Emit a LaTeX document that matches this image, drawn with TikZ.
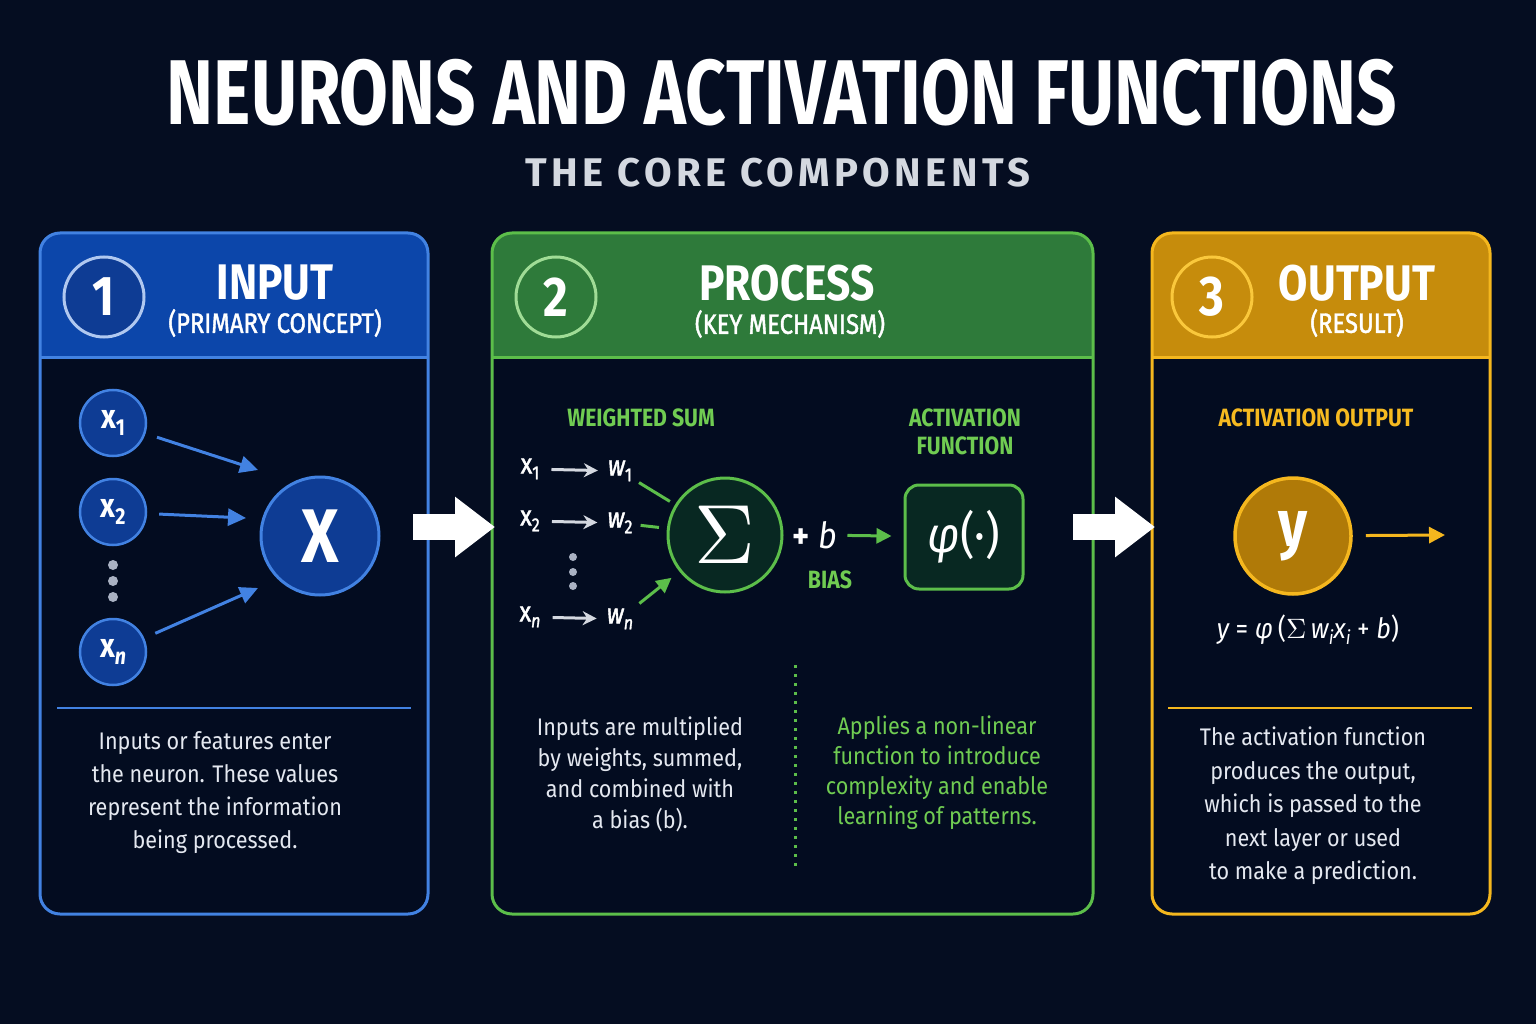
\documentclass[tikz,border=0pt]{standalone}
\usepackage{fontspec}
\setmainfont{Fira Sans}
\newfontfamily\titlefont[FakeStretch=0.77]{Fira Sans}
\newfontfamily\headfont[FakeStretch=0.85]{Fira Sans}
\newfontfamily\semifont[FakeStretch=0.85,FakeBold=1.5]{Fira Sans}
\newfontfamily\subfont[LetterSpace=11]{Fira Sans}
\newfontfamily\bodyfont[FakeStretch=0.9]{Fira Sans}
\newfontfamily\sigfont{lmroman10-regular.otf}
\usetikzlibrary{arrows.meta}

\definecolor{bgnavy}{RGB}{5,13,33}
\definecolor{panelbg}{RGB}{3,12,32}
\definecolor{txtlight}{RGB}{228,232,240}
\definecolor{subgrey}{RGB}{212,216,224}
\definecolor{dotgrey}{RGB}{170,178,195}
\definecolor{blueedge}{RGB}{66,130,226}
\definecolor{bluehead}{RGB}{12,70,170}
\definecolor{bluenode}{RGB}{14,60,148}
\definecolor{bluering}{RGB}{176,200,240}
\definecolor{greenedge}{RGB}{92,190,74}
\definecolor{greenhead}{RGB}{46,122,58}
\definecolor{greentxt}{RGB}{112,204,82}
\definecolor{greenring}{RGB}{160,220,150}
\definecolor{sigfill}{RGB}{8,40,34}
\definecolor{goldedge}{RGB}{245,183,30}
\definecolor{goldhead}{RGB}{198,140,12}
\definecolor{goldtxt}{RGB}{246,186,32}
\definecolor{goldring}{RGB}{250,200,60}
\definecolor{yfill}{RGB}{176,122,8}

\newcommand\fsz[2]{\fontsize{#1}{#2}\selectfont}
\newcommand\lowsub[1]{\raisebox{-0.4ex}{\scalebox{0.68}{#1}}}

\begin{document}
\begin{tikzpicture}[x=1pt,y=-1pt,
    every node/.style={inner sep=0pt, text=txtlight},
    numcirc/.style={circle, minimum size=80pt, line width=3pt, text=white,
      font=\headfont\bfseries\fsz{56pt}{56pt}},
    headtitle/.style={text=white, font=\headfont\bfseries\fsz{50pt}{50pt}},
    headsub/.style={text=white, font=\semifont\fsz{28pt}{28pt}},
    innode/.style={circle, minimum size=66pt, draw=blueedge, line width=2.5pt,
      fill=bluenode, text=white, font=\headfont\bfseries\fsz{34pt}{34pt}},
    greenlbl/.style={text=greentxt, align=center, font=\headfont\bfseries\fsz{25pt}{28pt}},
    bodytxt/.style={align=center, font=\bodyfont\fsz{24pt}{33pt}},
    mathtxt/.style={text=white, font=\semifont\fsz{28pt}{28pt}},
    bluearrow/.style={draw=blueedge, line width=3pt, -{Triangle[length=18pt,width=17pt]}},
    greyarrow/.style={draw=subgrey, line width=3pt, -{Stealth[length=14pt,width=14pt]}},
    greenline/.style={draw=greenedge, line width=3pt},
    greenarrow/.style={draw=greenedge, line width=3pt, -{Triangle[length=15pt,width=15pt]}},
    goldarrow/.style={draw=goldedge, line width=3pt, -{Triangle[length=16pt,width=16pt]}},
    bigarrow/.style={draw=white, line width=26pt, -{Triangle[length=40pt,width=58pt]}}]

  % background and title
  \fill[bgnavy] (0,0) rectangle (1536,1024);
  \node[text=white, font=\titlefont\bfseries\fsz{92pt}{92pt}] (title) at (782,93) {NEURONS AND ACTIVATION FUNCTIONS};
  \node[text=subgrey, font=\subfont\bfseries\fsz{40pt}{40pt}] (subtitle) at (778,173) {THE CORE COMPONENTS};

  % panel 1: input
  \fill[panelbg, rounded corners=20pt] (40,233) rectangle (428,914);
  \fill[bluehead] (40,357) [rounded corners=20pt] -- (40,233) -- (428,233) [sharp corners] -- (428,357) -- cycle;
  \draw[blueedge, line width=3pt, rounded corners=20pt] (40,233) rectangle (428,914);
  \draw[blueedge, line width=3pt] (40,357) -- (428,357);
  \node[numcirc, draw=bluering, fill=bluenode] (num1) at (104,297) {1};
  \node[headtitle] (inTitle) at (275,283) {INPUT};
  \node[headsub] (inSub) at (275,323) {(PRIMARY CONCEPT)};

  \node[innode] (x1) at (113,423) {x\lowsub{1}};
  \node[innode] (x2) at (113,512) {x\lowsub{2}};
  \node[innode] (xn) at (113,652) {x\lowsub{\itshape n}};
  \foreach \y in {565,581,597}
    \fill[dotgrey] (113,\y) circle (5pt);
  \node[innode, minimum size=118pt, line width=3pt, font=\headfont\bfseries\fsz{76pt}{76pt}] (bigx) at (320,536) {X};

  \coordinate (t1) at (258,470);
  \coordinate (t2) at (246,518);
  \coordinate (tn) at (258,588);
  \draw[bluearrow, shorten <=12pt] (x1) -- (t1);
  \draw[bluearrow, shorten <=12pt] (x2) -- (t2);
  \draw[bluearrow, shorten <=12pt] (xn) -- (tn);

  \draw[blueedge, line width=1.5pt] (57,708) -- (411,708);
  \node[bodytxt] (inText) at (215,793) {Inputs or features enter\\the neuron. These values\\represent the information\\being processed.};

  % panel 2: process
  \fill[panelbg, rounded corners=20pt] (492,233) rectangle (1093,914);
  \fill[greenhead] (492,357) [rounded corners=20pt] -- (492,233) -- (1093,233) [sharp corners] -- (1093,357) -- cycle;
  \draw[greenedge, line width=3pt, rounded corners=20pt] (492,233) rectangle (1093,914);
  \draw[greenedge, line width=3pt] (492,357) -- (1093,357);
  \node[numcirc, draw=greenring] (num2) at (556,297) {2};
  \node[headtitle] (procTitle) at (787,283) {PROCESS};
  \node[headsub] (procSub) at (790,324) {(KEY MECHANISM)};

  \node[greenlbl] (wsLbl) at (641,418) {WEIGHTED SUM};
  \node[greenlbl] (afLbl) at (965,432) {ACTIVATION\\FUNCTION};

  \node[mathtxt] (px1) at (530,469) {x\lowsub{1}};
  \node[mathtxt] (px2) at (530,521) {x\lowsub{2}};
  \node[mathtxt] (pxn) at (530,617) {x\lowsub{\itshape n}};
  \node[mathtxt] (pw1) at (620,471) {\itshape w\lowsub{\upshape 1}};
  \node[mathtxt] (pw2) at (620,523) {\itshape w\lowsub{\upshape 2}};
  \node[mathtxt] (pwn) at (620,619) {\itshape w\lowsub{n}};
  \foreach \y in {557,572,586}
    \fill[dotgrey] (573,\y) circle (4pt);
  \draw[greyarrow, shorten <=12pt, shorten >=10pt] (px1) -- (pw1);
  \draw[greyarrow, shorten <=12pt, shorten >=10pt] (px2) -- (pw2);
  \draw[greyarrow, shorten <=12pt, shorten >=10pt] (pxn) -- (pwn);

  \node[circle, minimum size=114pt, draw=greenedge, line width=3pt, fill=sigfill, text=white,
    font=\sigfont\fsz{84pt}{84pt}] (sig) at (725,535) {Σ};
  \draw[greenline, shorten <=8pt, shorten >=6pt] (pw1) -- (sig);
  \draw[greenline, shorten <=8pt, shorten >=8pt] (pw2) -- (sig);
  \draw[greenarrow, shorten <=8pt, shorten >=10pt] (pwn) -- (sig);

  \node[text=white, font=\bodyfont\fsz{36pt}{36pt}] (plusb) at (815,535) {\textbf{+} \itshape b};
  \node[greenlbl] (biasLbl) at (830,580) {BIAS};
  \node[draw=greenedge, line width=3pt, fill=sigfill, rounded corners=14pt, minimum width=118pt,
    minimum height=104pt, text=white, font=\bodyfont\fsz{50pt}{50pt}] (phi) at (964,537) {{\itshape φ}(·)};
  \draw[greenarrow, shorten <=10pt, shorten >=12pt] (plusb) -- (phi);

  \draw[greenedge, line width=3pt, dash pattern=on 3pt off 6pt] (795,665) -- (795,870);
  \node[bodytxt, font=\bodyfont\fsz{24pt}{31pt}] (sumText) at (640,774) {Inputs are multiplied\\by weights, summed,\\and combined with\\a bias (b).};
  \node[bodytxt, text=greentxt, font=\bodyfont\fsz{24pt}{30pt}] (actText) at (937,773) {Applies a non-linear\\function to introduce\\complexity and enable\\learning of patterns.};

  % panel 3: output
  \fill[panelbg, rounded corners=20pt] (1152,233) rectangle (1490,914);
  \fill[goldhead] (1152,357) [rounded corners=20pt] -- (1152,233) -- (1490,233) [sharp corners] -- (1490,357) -- cycle;
  \draw[goldedge, line width=3pt, rounded corners=20pt] (1152,233) rectangle (1490,914);
  \draw[goldedge, line width=3pt] (1152,357) -- (1490,357);
  \node[numcirc, draw=goldring] (num3) at (1212,297) {3};
  \node[headtitle] (outTitle) at (1357,283) {OUTPUT};
  \node[headsub] (outSub) at (1357,323) {(RESULT)};

  \node[greenlbl, text=goldtxt] (aoLbl) at (1316,418) {ACTIVATION OUTPUT};
  \node[circle, minimum size=116pt, draw=goldedge, line width=3.5pt, fill=yfill, text=white,
    font=\headfont\bfseries\fsz{66pt}{66pt}] (yout) at (1293,536) {y};
  \coordinate (yend) at (1445,535);
  \draw[goldarrow, shorten <=13pt] (yout) -- (yend);
  \node[text=white, font=\bodyfont\fsz{28pt}{28pt}] (formula) at (1308,630)
    {\itshape y \upshape= \itshape φ\upshape\,({\sigfont Σ}\,\itshape w\lowsub{i}x\lowsub{i} \upshape+ \itshape b\upshape)};

  \draw[goldedge, line width=1.5pt] (1168,708) -- (1472,708);
  \node[bodytxt, font=\bodyfont\fsz{24pt}{33.5pt}] (outText) at (1313,806) {The activation function\\produces the output,\\which is passed to the\\next layer or used\\to make a prediction.};

  % arrows between panels
  \coordinate (a1s) at (413,527);
  \coordinate (a1e) at (495,527);
  \coordinate (a2s) at (1073,527);
  \coordinate (a2e) at (1155,527);
  \draw[bigarrow] (a1s) -- (a1e);
  \draw[bigarrow] (a2s) -- (a2e);
\end{tikzpicture}
\end{document}
